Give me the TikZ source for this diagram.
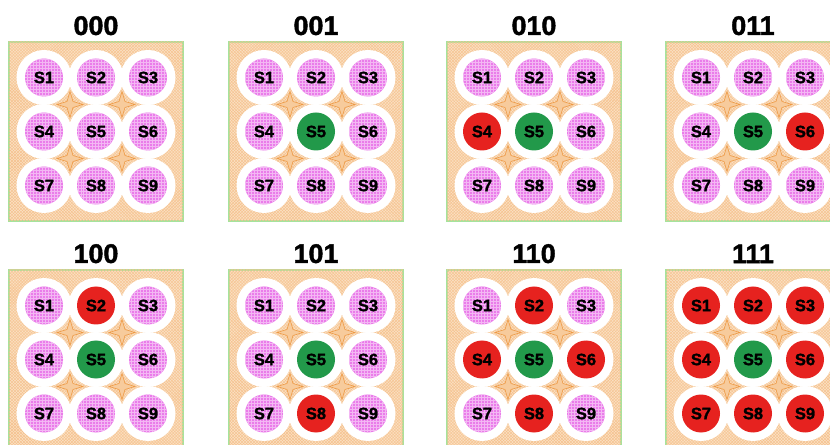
\documentclass[tikz,border=0pt]{standalone}
\usepackage{fontspec}
\setmainfont{Liberation Sans}
\newfontfamily\heavyfont{Liberation Sans}[BoldFeatures={FakeBold=1.6}]
\usetikzlibrary{positioning, calc, patterns}
\definecolor{cPeach}{HTML}{FBE0C2}
\definecolor{cOrange}{HTML}{EE9A45}
\definecolor{cFrame}{HTML}{A6E39C}
\definecolor{cPink}{HTML}{EA7CEA}
\definecolor{cRed}{HTML}{E6221F}
\definecolor{cGreen}{HTML}{22994A}
\tikzset{
  panel/.style={
    draw=cFrame, line width=1.2bp, fill=cPeach,
    minimum width=174bp, minimum height=179bp, inner sep=0pt,
    postaction={pattern=crosshatch, pattern color=cOrange!60}
  },
  paneltitle/.style={
    font=\heavyfont\bfseries\fontsize{27}{29}\selectfont, inner sep=0pt
  },
  halo/.style={
    circle, fill=white, minimum size=55bp, inner sep=0pt
  },
  seat/.style={
    circle, fill=#1, minimum size=38bp, inner sep=0pt,
    font=\heavyfont\bfseries\fontsize{16.5}{18}\selectfont
  },
  seatP/.style={seat=cPink, postaction={pattern=grid, pattern color=white!45!cPink}},
  seatR/.style={seat=cRed},
  seatG/.style={seat=cGreen},
  sparkle/.style={
    draw=cOrange, fill=cOrange!30!cPeach, line width=0.6bp
  },
}

% one panel: #1 name, #2 centre, #3 title, #4 seat styles S1..S9
\newcommand{\seatpanel}[4]{
  \node[panel] (#1) at (#2) {};
  \node[paneltitle, above=6bp of #1] (#1-title) {#3};
  \foreach \dx/\dy in {-26/-27, 26/-27, -26/27, 26/27}
    \draw[sparkle, shift={($(#1.center)+(\dx,\dy)$)}]
      (0,-13) -- (3,-3) -- (13,0) -- (3,3) -- (0,13) -- (-3,3) -- (-13,0) -- (-3,-3) -- cycle;
  \foreach \c [count=\i] in {#4} {
    \pgfmathtruncatemacro{\col}{mod(\i-1,3)}
    \pgfmathtruncatemacro{\row}{div(\i-1,3)}
    \node[halo] (#1-h\i) at ($(#1.center)+(\col*52-52,\row*54-54)$) {};
    \node[seat\c] (#1-s\i) at (#1-h\i) {S\i};
  }
}

\begin{document}
\begin{tikzpicture}[x=1bp, y=-1bp]

\useasboundingbox (0,0) rectangle (830,445);
\clip (0,0) rectangle (830,445);

% top row
\seatpanel{p000}{96,131.5}{000}{P,P,P,P,P,P,P,P,P}
\seatpanel{p001}{316,131.5}{001}{P,P,P,P,G,P,P,P,P}
\seatpanel{p010}{534,131.5}{010}{P,P,P,R,G,P,P,P,P}
\seatpanel{p011}{753,131.5}{011}{P,P,P,P,G,R,P,P,P}

% bottom row
\seatpanel{p100}{96,359.5}{100}{P,R,P,P,G,P,P,P,P}
\seatpanel{p101}{316,359.5}{101}{P,P,P,P,G,P,P,R,P}
\seatpanel{p110}{534,359.5}{110}{P,R,P,R,G,R,P,R,P}
\seatpanel{p111}{753,359.5}{111}{R,R,R,R,G,R,R,R,R}

\end{tikzpicture}
\end{document}
